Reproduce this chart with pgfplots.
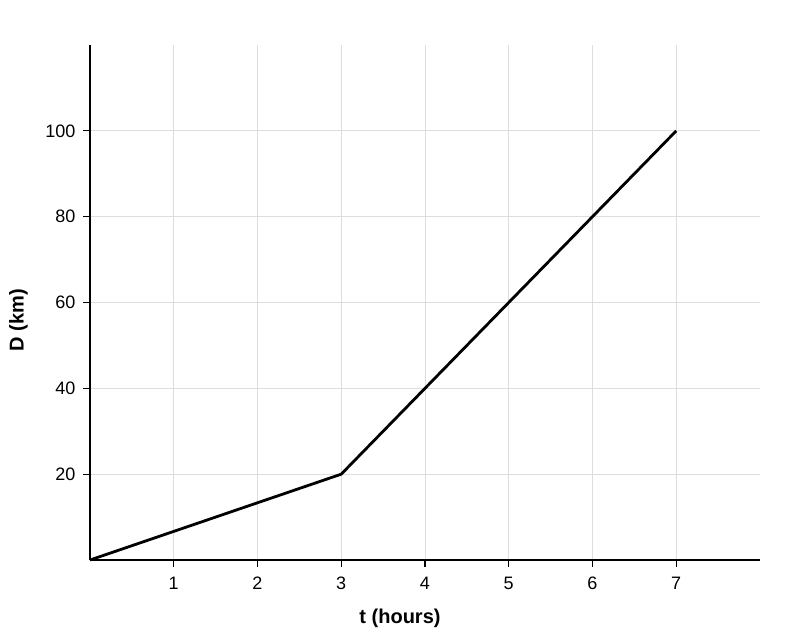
\documentclass[border=0pt]{standalone}
\usepackage{fontspec}
\setmainfont{Liberation Sans}
\usepackage{pgfplots}
\pgfplotsset{compat=1.18}
\begin{document}
\begin{tikzpicture}
\begin{axis}[
    at={(0,0)}, anchor=south west,
    scale only axis, width=502.5pt, height=386.25pt,
    xmin=0, xmax=8, ymin=0, ymax=120,
    xtick={1,2,3,4,5,6,7}, ytick={20,40,60,80,100},
    axis x line=bottom, axis y line=left,
    axis line style={black, line width=1.2pt, -},
    tick align=outside, major tick length=5pt,
    tick style={black, line width=1pt},
    grid=major, major grid style={color=black!13, line width=0.6pt},
    /pgf/number format/assume math mode=true,
    ticklabel style={font=\fontsize{13.5}{15}\selectfont},
    xticklabel style={yshift=-4pt},
    yticklabel style={xshift=-2.5pt},
    xlabel={\textbf{t (hours)}}, ylabel={\textbf{D (km)}},
    label style={font=\fontsize{15}{17}\selectfont},
    xlabel style={at={(axis description cs:0.4627,-0.1126)}, anchor=center},
    ylabel style={at={(axis description cs:-0.1067,0.466)}, anchor=center},
    clip=false,
]
\addplot[black, line width=2.1pt] coordinates {
    (0,0)
    (3,20)
    (7,100)
};
\end{axis}
\useasboundingbox (-67.5pt,-60pt) rectangle (532.5pt,420pt);
\end{tikzpicture}
\end{document}
